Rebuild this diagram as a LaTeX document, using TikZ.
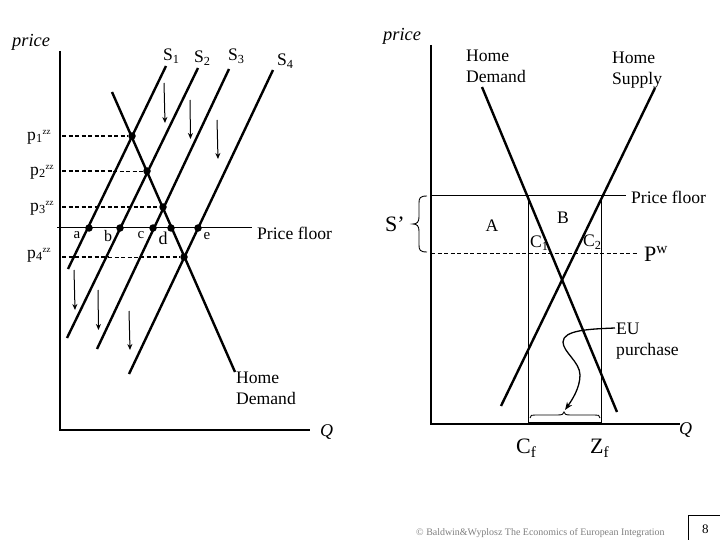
\documentclass[tikz,border=0pt]{standalone}
\usepackage{fontspec}
\setmainfont{Liberation Serif}
\usetikzlibrary{arrows.meta}
\tikzset{
 curve/.style={line width=2.4pt},
 axisline/.style={line width=2pt},
 thinline/.style={line width=0.8pt},
 dasha/.style={line width=1.5pt,dash pattern=on 4pt off 2.5pt},
 dashb/.style={line width=0.8pt,dash pattern=on 4pt off 2.5pt},
 shiftarrow/.style={line width=1pt,-{Stealth[length=6pt,width=5pt]}},
 dot/.style={circle,fill=black,inner sep=0pt,minimum size=7.5pt},
 lab/.style={inner sep=0pt,font=\fontsize{17.6}{21}\selectfont,align=left},
 big/.style={inner sep=0pt,font=\fontsize{22}{26}\selectfont},
 pl/.style={inner sep=0pt,font=\fontsize{18.4}{21}\selectfont\itshape},
}
\newcommand{\pp}[2]{p\textsubscript{#1}\raisebox{6pt}{\fontsize{9}{9}\selectfont #2}}
\begin{document}
\begin{tikzpicture}[x=1pt,y=-1pt]
\useasboundingbox (0,0) rectangle (720,540);
\fill[white] (0,0) rectangle (720,540);
% left axes
\coordinate (ltop) at (60,51); \coordinate (lo) at (60,430); \coordinate (lr) at (310,430);
\draw[axisline,line join=miter] (ltop) -- (lo) -- (lr);
% left named points
\node[dot] (e1) at (132,136) {};
\node[dot] (e2) at (147,171) {};
\node[dot] (e3) at (163,207) {};
\node[dot] (e4) at (184,257) {};
\node[dot] (a) at (89,228) {};
\node[dot] (b) at (120,228) {};
\node[dot] (c) at (153,228) {};
\node[dot] (d) at (171,228) {};
\node[dot] (e) at (198,228) {};
% curves
\coordinate (s1t) at (166,66); \coordinate (s1b) at (68,269);
\coordinate (s2t) at (198,68); \coordinate (s2b) at (67,338);
\coordinate (s3t) at (229,69); \coordinate (s3b) at (97,349);
\coordinate (s4t) at (273,70); \coordinate (s4b) at (129,374);
\coordinate (dt) at (112,92); \coordinate (db) at (235,372);
\draw[curve] (s1t) -- (s1b);
\draw[curve] (s2t) -- (s2b);
\draw[curve] (s3t) -- (s3b);
\draw[curve] (s4t) -- (s4b);
\draw[curve] (dt) -- (db);
% floor
\coordinate (fl) at (57,227.5); \coordinate (fr) at (252,227.5);
\draw[thinline] (fl) -- (fr);
% dashed
\coordinate (p1) at (62,136); \coordinate (p2) at (62,171); \coordinate (p3) at (62,207); \coordinate (p4) at (62,257);
\coordinate (p2m) at (113,171); \coordinate (p4m) at (108,257); \coordinate (p4n) at (140,257);
\draw[dasha] (p1) -- (e1);
\draw[dasha] (p2) -- (p2m); \draw[dashb] (p2m) -- (e2);
\draw[dasha] (p3) -- (e3);
\draw[dasha] (p4) -- (p4m); \draw[dashb] (p4m) -- (p4n); \draw[dasha] (p4n) -- (e4);
% shift arrows
\coordinate (u1) at (164,83); \coordinate (v1) at (165,123);
\coordinate (u2) at (190,100); \coordinate (v2) at (190.5,139);
\coordinate (u3) at (217,120); \coordinate (v3) at (218,159);
\coordinate (u4) at (74,270); \coordinate (v4) at (75,310);
\coordinate (u5) at (98,290); \coordinate (v5) at (98.5,330);
\coordinate (u6) at (129,311); \coordinate (v6) at (130,350);
\foreach \i in {1,...,6} \draw[shiftarrow] (u\i) -- (v\i);
% left text
\node[pl,anchor=west] (tp1) at (12,42) {price};
\node[lab,anchor=west] (ts1) at (163,56) {S\textsubscript{1}};
\node[lab,anchor=west] (ts2) at (194,58) {S\textsubscript{2}};
\node[lab,anchor=west] (ts3) at (228,56) {S\textsubscript{3}};
\node[lab,anchor=west] (ts4) at (277,61) {S\textsubscript{4}};
\node[lab,anchor=west] (tq1) at (27,137) {\pp{1}{zz}};
\node[lab,anchor=west] (tq2) at (30,172) {\pp{2}{zz}};
\node[lab,anchor=west] (tq3) at (30,208) {\pp{3}{zz}};
\node[lab,anchor=west] (tq4) at (27,255) {\pp{4}{zz}};
\node[inner sep=0pt,font=\fontsize{15}{16}\selectfont] (ta) at (77,235) {a};
\node[inner sep=0pt,font=\fontsize{16}{16}\selectfont] (tb) at (108,236) {b};
\node[inner sep=0pt,font=\fontsize{15}{16}\selectfont] (tc) at (141,235) {c};
\node[inner sep=0pt,font=\fontsize{18}{16}\selectfont] (td) at (163,238) {d};
\node[inner sep=0pt,font=\fontsize{15}{16}\selectfont] (te) at (207,236) {e};
\node[lab,anchor=west] (tf) at (257,233) {Price floor};
\node[lab,anchor=north west] (tdem) at (236,372) {Home\\Demand};
\node[pl,anchor=west,font=\fontsize{18}{20}\selectfont\itshape] (tq) at (320,432) {Q};
% right axes
\coordinate (rtop) at (431,45); \coordinate (ro) at (431,424); \coordinate (rr) at (680,424);
\draw[axisline] (rtop) -- (ro) -- (rr);
\coordinate (hdt) at (482,87); \coordinate (hdb) at (617,412);
\coordinate (hst) at (655,88); \coordinate (hsb) at (501,406);
\draw[curve] (hdt) -- (hdb);
\draw[curve] (hst) -- (hsb);
\coordinate (rfl) at (431,195.5); \coordinate (rfr) at (626,195.5);
\coordinate (cf) at (528,195.5); \coordinate (zf) at (601,195.5);
\coordinate (cfb) at (528,423.5); \coordinate (zfb) at (601,423.5);
\draw[thinline] (rfl) -- (rfr);
\draw[line width=1.6pt] (cf) -- (zf);
\draw[thinline] (cf) -- (cfb);
\draw[thinline] (zf) -- (zfb);
\draw[line width=2.6pt] (cfb) -- (zfb);
\coordinate (pwl) at (431,253); \coordinate (pwr) at (637,253);
\draw[dashb] (pwl) -- (pwr);
% brace S'
\draw[line width=0.9pt] (427,196) .. controls (420,196) and (419,198) .. (419,203)
  -- (419,217) .. controls (419,222) and (417,224) .. (413,224)
  .. controls (417,224) and (419,226) .. (419,231)
  -- (419,245) .. controls (419,250) and (420,252) .. (427,252);
% bottom brace
\draw[line width=0.9pt] (530,418) .. controls (530,415) and (532,415) .. (535,415)
  -- (558,415) .. controls (562,415) and (564,414) .. (564,412)
  .. controls (564,414) and (566,415) .. (570,415)
  -- (595,415) .. controls (598,415) and (600,415) .. (600,418);
% EU curve
\coordinate (eustart) at (615,328); \coordinate (euend) at (565,410);
\draw[line width=1.3pt,-{Stealth[length=8pt,width=6pt]}] (eustart)
  .. controls (590,329) and (563,330) .. (563,342)
  .. controls (563,352) and (580,362) .. (580,375)
  .. controls (580,388) and (572,400) .. (euend);
% right text
\node[pl,anchor=west] (tpr) at (383,36) {price};
\node[lab,anchor=north west] (thd) at (466,50) {Home\\Demand};
\node[lab,anchor=north west] (ths) at (612,52) {Home\\Supply};
\node[lab,anchor=west] (tfr) at (631,197) {Price floor};
\node[big,anchor=west] (tsp) at (385,224) {S’};
\node[lab,anchor=center] (tA) at (492,226) {A};
\node[lab,anchor=center] (tB) at (563,218) {B};
\node[lab,anchor=west] (tc1) at (530,243) {C\textsubscript{1}};
\node[lab,anchor=west] (tc2) at (583,242) {C\textsubscript{2}};
\node[big,anchor=west] (tpw) at (644,254) {P\textsuperscript{w}};
\node[lab,anchor=north west] (teu) at (616,323) {EU\\purchase};
\node[big,anchor=west] (tcf) at (516,448) {C\textsubscript{f}};
\node[big,anchor=west] (tzf) at (590,448) {Z\textsubscript{f}};
\node[pl,anchor=west,font=\fontsize{18}{20}\selectfont\itshape] (tq2r) at (679,430) {Q};
\node[inner sep=0pt,anchor=west,text=black!50,font=\fontsize{9.95}{11}\selectfont] (copy) at (416,533) {© Baldwin\&Wyplosz The Economics of European Integration};
% page box
\node[draw=black,line width=0.8pt,minimum width=34pt,minimum height=27pt,inner sep=0pt,anchor=north west,font=\fontsize{13}{14}\selectfont] (pg) at (688,515) {8};
\end{tikzpicture}
\end{document}
